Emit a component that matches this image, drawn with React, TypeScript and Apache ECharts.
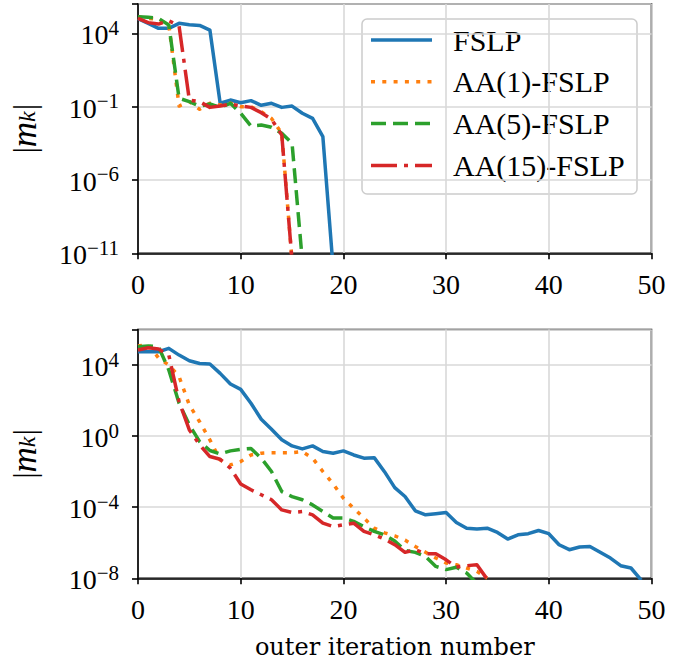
import React, { useEffect, useRef } from 'react';
import * as echarts from 'echarts';

// Series names and colours
const seriesNames = ['FSLP', 'AA(1)-FSLP', 'AA(5)-FSLP', 'AA(15)-FSLP'];
const seriesColors = ['#1f77b4', '#ff7f0e', '#2ca02c', '#d62728'];
const seriesDash: (number[] | 'solid')[] = ['solid', [4, 7.3], [15, 7], [26, 7, 4, 7]];

// x axis ticks
const xTicks = [0, 10, 20, 30, 40, 50];

// Values are log10 |m_k| per outer iteration k = 0, 1, 2, ...
// Top panel
const topFSLP = [5.0, 4.68, 4.34, 4.34, 4.68, 4.59, 4.54, 4.22, -0.77, -0.55, -0.73, -0.59, -0.91, -0.77, -1.05, -0.96, -1.45, -1.8, -3.05, -12];
const topAA1 = [5.13, 5.02, 4.95, 4.57, -0.96, -0.66, -1.18, -0.77, -0.89, -0.77, -1.0, -1.0, -1.34, -1.8, -2.82, -11.5];
const topAA5 = [5.13, 5.09, 5.02, 4.57, -0.43, -0.66, -0.96, -0.82, -1.05, -0.77, -1.45, -2.32, -2.25, -2.4, -2.82, -3.5, -11.5];
const topAA15 = [5.02, 4.73, 4.63, 4.86, 4.5, -0.55, -0.66, -1.05, -0.96, -0.82, -0.96, -1.05, -1.41, -1.86, -2.93, -11.5];

// Bottom panel
const botFSLP = [4.75, 4.75, 4.75, 4.94, 4.56, 4.24, 4.09, 4.06, 3.53, 2.93, 2.63, 1.85, 0.95, 0.39, -0.2, -0.55, -0.72, -0.55, -0.87, -0.96, -0.83, -1.06, -1.24, -1.21, -2.0, -2.9, -3.4, -4.2, -4.43, -4.37, -4.3, -4.86, -5.18, -5.23, -5.18, -5.42, -5.79, -5.55, -5.49, -5.31, -5.49, -6.11, -6.39, -6.24, -6.21, -6.54, -6.86, -7.29, -7.42, -8.1];
const botAA1 = [5.07, 5.14, 4.4, 4.0, 3.35, 1.75, 0.81, -0.21, -1.34, -1.62, -1.43, -1.06, -0.96, -0.93, -0.93, -0.93, -0.87, -1.24, -1.99, -2.69, -3.49, -4.06, -4.61, -5.18, -5.44, -5.61, -5.85, -6.21, -6.54, -6.86, -7.14, -7.24, -7.42, -7.61, -8.0];
const botAA5 = [5.03, 5.07, 5.03, 3.72, 1.85, 0.63, -0.31, -0.81, -1.0, -0.83, -0.74, -0.7, -1.24, -1.99, -3.12, -3.4, -3.58, -3.87, -4.24, -4.61, -4.61, -4.8, -5.09, -5.36, -5.55, -5.9, -6.43, -6.54, -6.77, -7.33, -7.51, -7.38, -7.7, -8.3];
const botAA15 = [4.85, 4.97, 4.9, 4.56, 1.94, 0.35, -0.49, -1.15, -1.3, -1.81, -2.69, -3.02, -3.3, -3.58, -4.15, -4.3, -4.24, -4.43, -4.9, -5.09, -4.99, -4.9, -5.36, -5.55, -5.79, -6.11, -6.54, -6.39, -6.62, -6.62, -6.96, -7.37, -7.29, -7.24, -8.05];

const topData = [topFSLP, topAA1, topAA5, topAA15];
const botData = [botFSLP, botAA1, botAA5, botAA15];

const FONT = 'Liberation Serif';

const supLabel = (v: number) => {
  const e = Math.round(v);
  const s = e < 0 ? '\u2212' + -e : String(e);
  return `{b|10}{s|${s}}`;
};

const yRich = {
  b: { fontSize: 28, fontFamily: FONT, color: '#000', padding: [3, 0, 0, 0] },
  s: { fontSize: 21, fontFamily: FONT, color: '#000', padding: [0, 0, 11, 0] },
};

const nameRich = {
  t: { fontSize: 32, fontFamily: FONT, fontStyle: 'normal', fill: '#000' },
  m: { fontSize: 35, fontFamily: FONT, fontStyle: 'italic', fill: '#000' },
  k: { fontSize: 24, fontFamily: FONT, fontStyle: 'italic', fill: '#000', padding: [6, 1, 0, 0] },
};

const axisCommon = {
  axisLine: { show: true, onZero: false, lineStyle: { color: '#000', width: 1.6 } },
  axisTick: { show: true, inside: false, length: 6, lineStyle: { color: '#000', width: 1.6 } },
  splitLine: { show: true, lineStyle: { color: '#d9d9d9', width: 1.6 } },
};

export default function App() {
  const ref = useRef<HTMLDivElement>(null);

  useEffect(() => {
    if (!ref.current) return;
    const chart = echarts.init(ref.current, undefined, { renderer: 'svg' });

    const makeSeries = (data: number[][], gi: number) =>
      data.map((arr, i) => ({
        name: seriesNames[i],
        type: 'line',
        xAxisIndex: gi,
        yAxisIndex: gi,
        data: arr.map((v, k) => [k, v]),
        showSymbol: false,
        symbol: 'none',
        clip: true,
        lineStyle: {
          color: seriesColors[i],
          width: 3.5,
          type: seriesDash[i],
          cap: 'butt',
          join: 'round',
        },
        z: 2 + i,
      }));

    const legendY0 = 40;
    const legendStep = 41.8;
    const legendChildren: any[] = [
      {
        type: 'rect',
        shape: { x: 362, y: 19, width: 275, height: 175, r: 5 },
        style: { fill: 'rgba(255,255,255,0.8)', stroke: '#cccccc', lineWidth: 1.5 },
      },
    ];
    seriesNames.forEach((n, i) => {
      const y = legendY0 + legendStep * i;
      legendChildren.push({
        type: 'line',
        shape: { x1: 371, y1: y, x2: 432, y2: y },
        style: {
          stroke: seriesColors[i],
          lineWidth: 3.5,
          lineDash: seriesDash[i] === 'solid' ? null : seriesDash[i],
          lineCap: 'butt',
        },
      });
      legendChildren.push({
        type: 'text',
        x: 453,
        y: y,
        style: {
          text: n,
          fontSize: 30,
          fontFamily: FONT,
          fill: '#000',
          verticalAlign: 'middle',
          align: 'left',
        },
      });
    });

    const yNameCenters = [128.7, 454];
    const yNames = yNameCenters.map((cy) => ({
      type: 'text',
      x: 24,
      y: cy,
      rotation: Math.PI / 2,
      style: {
        text: '{t||}{m|m}{k|k}{t||}',
        rich: nameRich,
        fontSize: 32,
        fontFamily: FONT,
        fill: '#000',
        align: 'center',
        verticalAlign: 'middle',
      },
    }));

    chart.setOption({
      animation: false,
      backgroundColor: '#ffffff',
      textStyle: { fontFamily: FONT, color: '#000' },
      grid: [
        { left: 138, right: 36.5, top: 4, height: 249.3, show: true, borderColor: '#000', borderWidth: 1.6, backgroundColor: 'transparent' },
        { left: 138, right: 36.5, top: 329.5, height: 248.8, show: true, borderColor: '#000', borderWidth: 1.6, backgroundColor: 'transparent' },
      ],
      xAxis: [0, 1].map((gi) => ({
        type: 'value',
        gridIndex: gi,
        min: xTicks[0],
        max: xTicks[xTicks.length - 1],
        interval: 10,
        ...axisCommon,
        axisLabel: { fontSize: 28, fontFamily: FONT, color: '#000', margin: 17.5 },
        name: gi === 1 ? 'outer iteration number' : '',
        nameLocation: 'middle',
        nameGap: 57,
        nameTextStyle: { fontSize: 24, fontFamily: 'DejaVu Serif', color: '#000' },
      })),
      yAxis: [
        {
          type: 'value',
          gridIndex: 0,
          min: -11,
          max: 6,
          interval: 5,
          ...axisCommon,
          axisLabel: {
            margin: 19,
            fontFamily: FONT,
            fontSize: 28,
            formatter: (v: number) => ((Math.round(v) + 11) % 5 === 0 ? supLabel(v) : ''),
            rich: yRich,
          },
        },
        {
          type: 'value',
          gridIndex: 1,
          min: -8,
          max: 6,
          interval: 4,
          ...axisCommon,
          axisLabel: {
            margin: 19,
            fontFamily: FONT,
            fontSize: 28,
            formatter: (v: number) => ((Math.round(v) + 8) % 4 === 0 ? supLabel(v) : ''),
            rich: yRich,
          },
        },
      ],
      series: [...makeSeries(topData, 0), ...makeSeries(botData, 1)],
      graphic: [
        { type: 'group', z: 100, children: legendChildren },
        { type: 'group', z: 100, children: yNames },
      ],
    });

    return () => chart.dispose();
  }, []);

  return (
    <div
      ref={ref}
      style={{ position: 'absolute', left: 0, top: 0, width: 688, height: 661, background: '#fff' }}
    />
  );
}
